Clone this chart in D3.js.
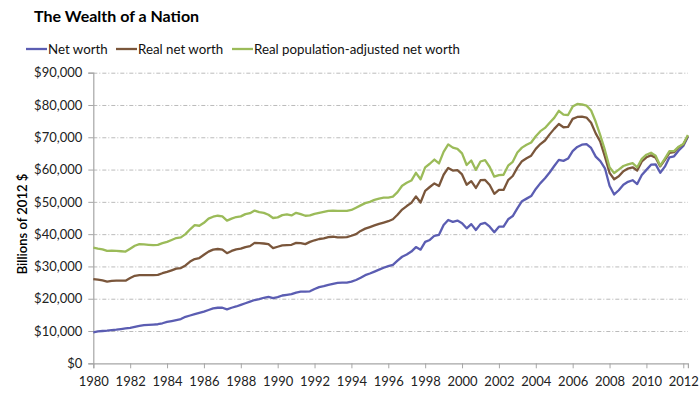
<!DOCTYPE html>
<html><head><meta charset="utf-8">
<script src="https://cdn.jsdelivr.net/npm/d3@7/dist/d3.min.js"></script>
<style>
body{margin:0;background:#fff}
svg{display:block;font-family:Lato,"Open Sans","Liberation Sans",sans-serif}
</style>
</head><body>
<svg id="c" width="700" height="397"></svg>
<script>
// ---- data (billions of 2012 $), quarterly from 1980 Q1 ----
const startYear = 1980;
const seriesNames = ["Net worth", "Real net worth", "Real population-adjusted net worth"];
const netWorth = [
  9600, 9900, 10000, 10100,   10300, 10400, 10600, 10800,
  11000, 11300, 11600, 11800, 11900, 12000, 12100, 12400,
  12800, 13100, 13400, 13700, 14400, 14800, 15200, 15600,
  16000, 16500, 17000, 17200, 17200, 16700, 17200, 17600,
  18100, 18600, 19100, 19600, 19900, 20300, 20600, 20200,
  20500, 21000, 21200, 21400, 21900, 22200, 22200, 22300,
  23000, 23600, 23900, 24300, 24600, 24900, 25000, 25000,
  25300, 25800, 26500, 27300, 27800, 28400, 29000, 29600,
  30100, 30500, 31800, 33000, 33700, 34600, 36000, 35200,
  37600, 38200, 39500, 39800, 42800, 44400, 43800, 44200,
  43400, 41800, 43100, 41300, 43100, 43500, 42300, 40600,
  42300, 42300, 44600, 45600, 48000, 50200, 51000, 51800,
  54000, 55800, 57300, 59100, 61100, 63000, 62700, 63400,
  65700, 67000, 67700, 67900, 66700, 64000, 62600, 60400,
  55000, 52300, 53600, 55300, 56200, 56700, 55500, 58300,
  59900, 61500, 61600, 59000, 60900, 63800, 64100, 65900,
  67300, 70200
];
const realNetWorth = [
  26100, 25900, 25700, 25300, 25500, 25600, 25600, 25600,
  26400, 27100, 27300, 27300, 27300, 27300, 27400, 27900,
  28300, 28800, 29300, 29500, 30300, 31500, 32300, 32600,
  33600, 34600, 35200, 35400, 35200, 34100, 34800, 35300,
  35500, 36000, 36300, 37300, 37200, 37100, 36900, 35700,
  36100, 36500, 36600, 36700, 37300, 37200, 36900, 37600,
  38100, 38500, 38700, 39100, 39200, 39000, 39000, 39100,
  39500, 40000, 41000, 41700, 42200, 42700, 43200, 43600,
  44000, 44600, 46000, 47600, 48700, 49700, 51700, 49800,
  53400, 54600, 55700, 54900, 58400, 60500, 59700, 59800,
  58500, 55300, 56400, 54300, 56700, 56800, 55200, 52500,
  53700, 53700, 56700, 58000, 60600, 62600, 63500, 64300,
  66400, 67900, 69000, 70900, 72600, 74100, 73100, 73200,
  75700, 76300, 76400, 76100, 74500, 71200, 68600, 64000,
  59000, 57000, 57900, 59500, 60300, 60700, 59700, 62500,
  63800, 64400, 63700, 61000, 63000, 65200, 65400, 66900,
  67800, 70400
];
const popAdjNetWorth = [
  35800, 35500, 35300, 34800, 34900, 34800, 34700, 34600,
  35500, 36400, 36900, 36800, 36700, 36600, 36700, 37200,
  37600, 38200, 38800, 39000, 40000, 41500, 42800, 42600,
  43500, 44800, 45400, 45700, 45500, 44200, 44800, 45300,
  45500, 46200, 46500, 47300, 46800, 46600, 46000, 45000,
  45200, 45900, 46100, 45800, 46600, 46200, 45700, 45800,
  46300, 46600, 46900, 47200, 47300, 47200, 47200, 47200,
  47500, 48200, 48900, 49600, 50000, 50600, 51000, 51300,
  51300, 51600, 53000, 55000, 55900, 56600, 59000, 57000,
  60700, 61800, 63100, 61900, 65500, 67800, 66800, 66400,
  65000, 61400, 62800, 59900, 62500, 62900, 60800, 57800,
  58300, 58400, 61200, 62400, 65300, 66800, 67700, 68400,
  70300, 71900, 72900, 74500, 76000, 78200, 77000, 76900,
  79500, 80300, 80200, 79800, 78300, 74800, 70600, 66000,
  60700, 58900, 60000, 61100, 61600, 62000, 60700, 63300,
  64600, 65200, 64300, 61200, 63400, 65700, 65700, 67100,
  67900, 70700
];
const yTicks = [0, 10000, 20000, 30000, 40000, 50000, 60000, 70000, 80000, 90000];
const xTicks = d3.range(1980, 2013, 2);
const colors = ["#5b5db2", "#7a563b", "#9bbb59"];

// ---- layout ----
const svg = d3.select("#c");
const mLeft = 93.3, mRight = 687.9, mTop = 72.7, mBottom = 363.3;
const x = d3.scaleLinear().domain([1980, 2012.25]).range([mLeft, mRight]);
const y = d3.scaleLinear().domain([0, 90000]).range([mBottom, mTop]);

// title
svg.append("text").attr("x", 34).attr("y", 22)
  .attr("font-size", 16).attr("font-weight", "bold").attr("fill", "#000")
  .text("The Wealth of a Nation");

// gridlines
svg.append("g").attr("transform", `translate(${mLeft},0)`)
  .call(d3.axisLeft(y).tickValues(yTicks.slice(1)).tickSize(-(mRight - mLeft)).tickFormat(""))
  .call(g => g.select(".domain").remove())
  .call(g => g.selectAll("line").attr("stroke", "#a9a9a9").attr("stroke-width", 0.8)
      .attr("stroke-dasharray", "4,2,1,2"));

// y axis
const yAxis = svg.append("g").attr("transform", `translate(${mLeft},0)`)
  .call(d3.axisLeft(y).tickValues(yTicks).tickSize(5).tickPadding(6)
    .tickFormat(d => "$" + d3.format(",")(d)));
yAxis.select(".domain").attr("stroke", "#a6a6a6").attr("stroke-width", 1.2);
yAxis.selectAll(".tick line").attr("stroke", "#a6a6a6");
yAxis.selectAll("text").attr("font-size", 13).attr("fill", "#222").attr("font-family", "Lato");

// x axis
const xAxis = svg.append("g").attr("transform", `translate(0,${mBottom})`)
  .call(d3.axisBottom(x).tickValues(xTicks).tickSize(5).tickPadding(8).tickFormat(d3.format("d")));
xAxis.select(".domain").attr("stroke", "#a6a6a6").attr("stroke-width", 1.2);
xAxis.selectAll(".tick line").attr("stroke", "#a6a6a6");
xAxis.selectAll("text").attr("font-size", 13).attr("fill", "#222").attr("font-family", "Lato");

// y title
svg.append("text").attr("transform", "translate(27,224) rotate(-90)")
  .attr("text-anchor", "middle").attr("font-size", 13).attr("font-weight", 600).attr("fill", "#000")
  .text("Billions of 2012 $");

// lines
const allSeries = [netWorth, realNetWorth, popAdjNetWorth];
const line = d3.line().x((d, i) => x(startYear + i * 0.25)).y(d => y(d));
allSeries.forEach((s, k) => {
  svg.append("path").datum(s).attr("d", line).attr("fill", "none")
    .attr("stroke", colors[k]).attr("stroke-width", 2.3).attr("stroke-linejoin", "round");
});

// legend
const legendX = [26, 116, 232];
seriesNames.forEach((n, k) => {
  const g = svg.append("g").attr("transform", `translate(${legendX[k]},49)`);
  g.append("line").attr("x1", 0).attr("x2", 21).attr("stroke", colors[k]).attr("stroke-width", 2.3);
  g.append("text").attr("x", 22).attr("y", 4.5).attr("font-size", 13.3).attr("fill", "#111").text(n);
});
</script>
</body></html>
